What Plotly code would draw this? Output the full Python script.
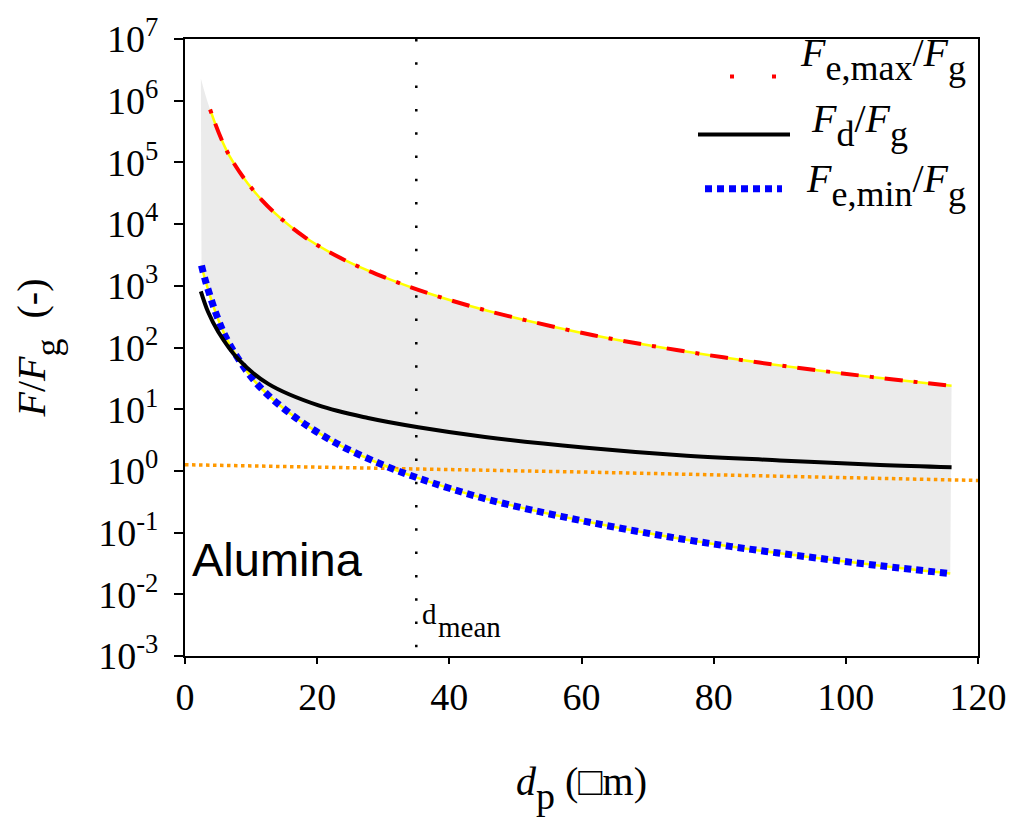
import plotly.graph_objects as go

# ---------------- data ----------------
# particle diameter d_p (um) and force ratios F/F_g (-)
fe_max_d = [3.8, 6.7, 11.7, 17.9, 24.2, 30.5, 36.7, 43.0, 49.3, 61.8, 74.4, 86.9, 99.5, 112.0, 116.0]
fe_max = [7.2e5, 1.29e5, 2.4e4, 6.4e3, 2.6e3, 1.33e3, 765, 475, 316, 158, 91, 57, 38, 26.6, 24]

band_top_d = [2.4] + fe_max_d          # grey band upper edge starts a little further left
band_top = [2.3e6] + fe_max

fd_d = [2.4, 3.5, 5.0, 8.1, 12.6, 20.2, 27.7, 35.3, 45.4, 60.3, 74.9, 90.0, 105.2, 116.0]
fd = [813, 375, 182, 64, 25.7, 11.5, 7.2, 5.1, 3.55, 2.4, 1.8, 1.48, 1.25, 1.15]

fe_min_d = [2.5, 3.1, 4.9, 6.7, 10.6, 15.9, 22.9, 29.8, 35.2, 45.6, 59.8, 75.4, 89.5, 105.2, 115.8]
fe_min = [2130, 1200, 309, 115, 28, 8.5, 2.8, 1.27, 0.77, 0.35, 0.158, 0.078, 0.047, 0.029, 0.0217]

unity_d = [0, 60, 120]
unity = [1.26, 0.96, 0.70]

d_mean = 35

x_ticks = [0, 20, 40, 60, 80, 100, 120]
y_exps = [-3, -2, -1, 0, 1, 2, 3, 4, 5, 6, 7]
y_ticks = [10.0 ** e for e in y_exps]
y_ticktext = ["10<sup>%d</sup>" % e for e in y_exps]

# ---------------- styling ----------------
SERIF = "Liberation Serif"
SANS = "Liberation Sans"
RED = "#FF0000"
BLUE = "#0000FF"
YELLOW = "#FFFF00"
ORANGE = "#FF9900"
GREY = "#EBEBEB"

# plot-area pixel box (used only to place legend / labels in paper coords)
PL, PR, PT, PB = 185, 978, 30, 656


def xp(px):
    return (px - PL) / (PR - PL)


def yp(py):
    return (PB - py) / (PB - PT)


def sub(t, size=36):
    return "<sub><sub><span style='font-size:%dpx'>%s</span></sub></sub>" % (size, t)


fig = go.Figure()

# grey band between F_e,min and F_e,max
fig.add_trace(go.Scatter(x=fe_min_d, y=fe_min, mode="lines",
                         line=dict(width=0, shape="spline", color=GREY),
                         showlegend=False, hoverinfo="skip"))
fig.add_trace(go.Scatter(x=band_top_d, y=band_top, mode="lines", fill="tonexty",
                         fillcolor=GREY, line=dict(width=0, shape="spline", color=GREY),
                         showlegend=False, hoverinfo="skip"))

# F/F_g = 1 reference (orange dotted)
fig.add_trace(go.Scatter(x=unity_d, y=unity, mode="lines",
                         line=dict(color=ORANGE, width=3.5, dash="dot"),
                         showlegend=False))

# F_e,min / F_g
fig.add_trace(go.Scatter(x=fe_min_d, y=fe_min, mode="lines",
                         line=dict(color=YELLOW, width=2.5, shape="spline"),
                         showlegend=False))
fig.add_trace(go.Scatter(x=fe_min_d, y=fe_min, mode="lines",
                         line=dict(color=BLUE, width=7, dash="7px,5px", shape="spline"),
                         showlegend=False))

# F_e,max / F_g
fig.add_trace(go.Scatter(x=fe_max_d, y=fe_max, mode="lines",
                         line=dict(color=YELLOW, width=2.5, shape="spline"),
                         showlegend=False))
fig.add_trace(go.Scatter(x=fe_max_d, y=fe_max, mode="lines",
                         line=dict(color=RED, width=4, dash="4px,11px,18px,11px", shape="spline"),
                         showlegend=False))

# F_d / F_g
fig.add_trace(go.Scatter(x=fd_d, y=fd, mode="lines",
                         line=dict(color="black", width=4, shape="spline"),
                         showlegend=False))

shapes = [
    # d_mean vertical dotted line
    dict(type="line", xref="x", yref="paper", x0=d_mean, x1=d_mean, y0=1, y1=0,
         line=dict(color="black", width=2.5, dash="2.5px,20.8px")),
    # legend samples
    dict(type="line", xref="paper", yref="paper", x0=xp(730), x1=xp(776), y0=yp(68), y1=yp(68),
         line=dict(color=RED, width=4, dash="4px,38px")),
    dict(type="line", xref="paper", yref="paper", x0=xp(698), x1=xp(790), y0=yp(127), y1=yp(127),
         line=dict(color="black", width=4)),
    dict(type="line", xref="paper", yref="paper", x0=xp(705), x1=xp(782), y0=yp(182), y1=yp(182),
         line=dict(color=BLUE, width=7, dash="7px,5px")),
]

ann_font = dict(family=SERIF, size=40, color="black")
annotations = [
    dict(xref="paper", yref="paper", x=xp(968), y=yp(50), xanchor="right", yanchor="middle",
         text="<i>F</i>" + sub("e,max") + "/<i>F</i>" + sub("g"), showarrow=False, font=ann_font),
    dict(xref="paper", yref="paper", x=xp(910), y=yp(117), xanchor="right", yanchor="middle",
         text="<i>F</i>" + sub("d") + "/<i>F</i>" + sub("g"), showarrow=False, font=ann_font),
    dict(xref="paper", yref="paper", x=xp(968), y=yp(178), xanchor="right", yanchor="middle",
         text="<i>F</i>" + sub("e,min") + "/<i>F</i>" + sub("g"), showarrow=False, font=ann_font),
    dict(xref="paper", yref="paper", x=xp(190), y=yp(558), xanchor="left", yanchor="middle",
         text="Alumina", showarrow=False, font=dict(family=SANS, size=47, color="black")),
    dict(xref="paper", yref="paper", x=xp(420), y=yp(613), xanchor="left", yanchor="middle",
         text="d", showarrow=False, font=dict(family=SERIF, size=29, color="black")),
    dict(xref="paper", yref="paper", x=xp(436), y=yp(627), xanchor="left", yanchor="middle",
         text="mean", showarrow=False, font=dict(family=SERIF, size=29, color="black")),
]

fig.update_layout(
    width=1023, height=824,
    margin=dict(l=PL, r=1023 - PR, t=PT, b=824 - PB),
    paper_bgcolor="white", plot_bgcolor="white",
    showlegend=False,
    shapes=shapes,
    annotations=annotations,
    font=dict(family=SERIF, color="black"),
)

fig.update_xaxes(
    range=[0, 120], tickvals=x_ticks, ticks="outside", ticklen=6, tickwidth=2,
    tickcolor="black", showline=True, linewidth=2, linecolor="black", mirror=True,
    showgrid=False, zeroline=False,
    tickfont=dict(family=SERIF, size=38, color="black"),
    title=dict(text="<i>d</i>" + sub("p", 38) + " (\u25a1m)",
               font=dict(family=SERIF, size=40, color="black"), standoff=50),
)

fig.update_yaxes(
    type="log", range=[-3, 7], tickvals=y_ticks, ticktext=y_ticktext,
    ticks="outside", ticklen=9, tickwidth=2, tickcolor="black",
    showline=True, linewidth=2, linecolor="black", mirror=True,
    showgrid=False, zeroline=False, ticklabelstandoff=8,
    tickfont=dict(family=SERIF, size=38, color="black"),
    title=dict(text="<i>F</i>/<i>F</i>" + sub("g") + "\u00a0\u00a0(-)",
               font=dict(family=SERIF, size=40, color="black"), standoff=40),
)

fig.write_html("out.html", config={"displayModeBar": False},
               post_script="document.body.style.margin='0';document.body.style.overflow='hidden';")
